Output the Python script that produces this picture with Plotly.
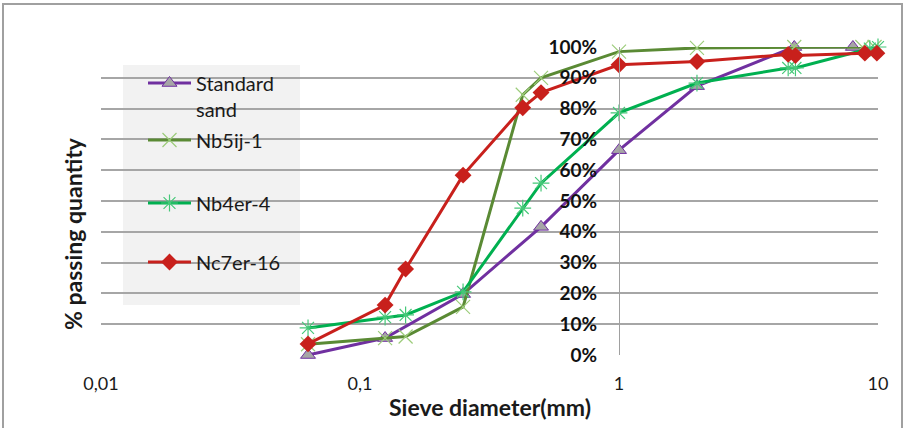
import plotly.graph_objects as go

# ---- data ----
sand_x = [0.063, 0.125, 0.25, 0.5, 1, 2, 4.75, 8]
sand_y = [0, 5.5, 19.8, 41.6, 66.5, 87.3, 100, 100]

nb5_x = [0.063, 0.125, 0.15, 0.25, 0.425, 0.5, 1, 2, 4.75, 8.7, 9.7]
nb5_y = [3.5, 5.5, 6, 15.6, 84.5, 90, 98.5, 99.7, 100, 100, 100]

nb4_x = [0.063, 0.125, 0.15, 0.25, 0.425, 0.5, 1, 2, 4.5, 4.8, 9.3, 10]
nb4_y = [8.8, 12.3, 13, 20.5, 47.7, 55.8, 78.6, 88.3, 93.2, 93.2, 99.5, 100]

nc7_x = [0.063, 0.125, 0.15, 0.25, 0.425, 0.5, 1, 2, 4.5, 4.8, 8.9, 9.9]
nc7_y = [3.6, 16.2, 27.9, 58.4, 80.3, 85.2, 94.2, 95.3, 97.6, 97.2, 98, 98]

series_names = ["Standard<br>sand", "Nb5ij-1", "Nb4er-4", "Nc7er-16"]
x_tickvals = [0.01, 0.1, 1, 10]
x_ticktext = ["0,01", "0,1", "1", "10"]
y_tickvals = [0, 10, 20, 30, 40, 50, 60, 70, 80, 90, 100]
y_ticktext = ["0%", "10%", "20%", "30%", "40%", "50%", "60%", "70%", "80%", "90%", "100%"]

# ---- layout geometry (pixels) ----
W, H = 906, 429
L, R, T, B = 101, 878, 47, 355
pw, ph = R - L, B - T


def px(xp):
    return (xp - L) / pw


def py(yp):
    return (B - yp) / ph


FONT = "Lato"
TXT = "#1a1a1a"

fig = go.Figure()

fig.add_trace(go.Scatter(
    x=sand_x, y=sand_y, name=series_names[0], mode="lines+markers",
    line=dict(color="#7030a0", width=3),
    marker=dict(symbol="triangle-up", size=13, color="#a6a6a6",
                line=dict(color="#7030a0", width=1)),
    legend="legend", showlegend=True, cliponaxis=False))
fig.add_trace(go.Scatter(
    x=nb5_x, y=nb5_y, name=series_names[1], mode="lines+markers",
    line=dict(color="#5a8a34", width=3),
    marker=dict(symbol="x-thin", size=14,
                line=dict(color="#9ccc7a", width=1.2)),
    legend="legend2", showlegend=True, cliponaxis=False))
fig.add_trace(go.Scatter(
    x=nb4_x, y=nb4_y, name=series_names[2], mode="lines+markers",
    line=dict(color="#00b050", width=3),
    marker=dict(symbol="asterisk", size=14,
                line=dict(color="#45c878", width=1.2)),
    legend="legend3", showlegend=True, cliponaxis=False))
fig.add_trace(go.Scatter(
    x=nc7_x, y=nc7_y, name=series_names[3], mode="lines+markers",
    line=dict(color="#c8201c", width=3),
    marker=dict(symbol="diamond", size=13, color="#c8201c"),
    legend="legend4", showlegend=True, cliponaxis=False))

shapes = [
    # legend background box
    dict(type="rect", xref="paper", yref="paper",
         x0=px(123), x1=px(300), y0=py(305), y1=py(65),
         fillcolor="#f2f2f2", line=dict(width=0), layer="between"),
    # outer chart border
    dict(type="path", xref="paper", yref="paper",
         path=f"M {px(3)},{py(428)} L {px(3)},{py(4)} L {px(902)},{py(4)} L {px(902)},{py(428)}",
         line=dict(color="#a0a0a0", width=2)),
]

annotations = [
    dict(text="<b>Sieve diameter(mm)</b>", xref="paper", yref="paper",
         x=0.5, y=py(407), showarrow=False, xanchor="center", yanchor="middle",
         font=dict(family=FONT, size=23, color=TXT)),
    dict(text="<b>% passing quantity</b>", xref="paper", yref="paper",
         x=px(73), y=py(234), showarrow=False, textangle=-90,
         xanchor="center", yanchor="middle",
         font=dict(family=FONT, size=23, color=TXT)),
]


def leg(ycenter):
    return dict(x=px(143), y=py(ycenter), xanchor="left", yanchor="middle",
                bgcolor="rgba(0,0,0,0)", font=dict(family=FONT, size=20, color=TXT),
                itemwidth=43, valign="top", visible=True)


fig.update_layout(
    width=W, height=H,
    margin=dict(l=L, r=W - R, t=T, b=H - B),
    paper_bgcolor="white", plot_bgcolor="white",
    font=dict(family=FONT, color=TXT),
    showlegend=True,
    shapes=shapes, annotations=annotations,
    legend=leg(96), legend2=leg(140), legend3=leg(203), legend4=leg(262),
    xaxis=dict(type="log", range=[-2, 1], tickvals=x_tickvals, ticktext=x_ticktext,
               showgrid=False, zeroline=False, showline=False, ticks="",
               tickfont=dict(family=FONT, size=18, color=TXT),
               ticklabelstandoff=16),
    yaxis=dict(range=[0, 100], tickvals=y_tickvals, ticktext=y_ticktext,
               anchor="free", position=2 / 3, side="left",
               showgrid=True, gridcolor="#a6a6a6", gridwidth=1.5,
               zeroline=False, showline=True, linecolor="#a0a0a0", linewidth=1,
               ticks="", ticklabelstandoff=18,
               tickfont=dict(family=FONT, size=19, color="#111111", weight="bold")),
)

fig.write_html("out.html", config={"displayModeBar": False},
               post_script="document.body.style.margin='0';")
